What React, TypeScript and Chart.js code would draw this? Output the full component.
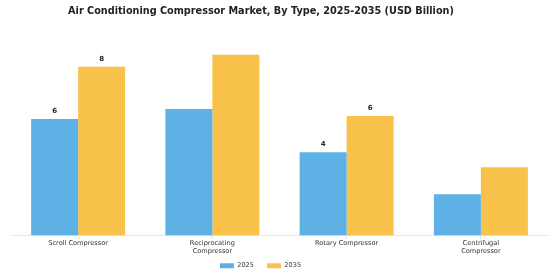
import React, { useEffect, useRef } from "react";
import { Chart, registerables } from "chart.js";

Chart.register(...registerables);

const categories: (string | string[])[] = [
  "Scroll Compressor",
  ["Reciprocating", "Compressor"],
  "Rotary Compressor",
  ["Centrifugal", "Compressor"],
];
const values2025 = [5.8, 6.3, 4.15, 2.05];
const values2035 = [8.4, 9.0, 5.95, 3.4];
const labels2025 = [true, false, true, false];
const labels2035 = [true, false, true, false];
const seriesNames = ["2025", "2035"];

const valueLabelPlugin = {
  id: "valueLabels",
  afterDatasetsDraw(chart: any) {
    const ctx = chart.ctx;
    const flags = [labels2025, labels2035];
    chart.data.datasets.forEach((ds: any, di: number) => {
      const meta = chart.getDatasetMeta(di);
      meta.data.forEach((bar: any, i: number) => {
        if (!flags[di][i]) return;
        ctx.save();
        ctx.font = "bold 7px 'DejaVu Sans'";
        ctx.fillStyle = "#222";
        ctx.textAlign = "center";
        ctx.textBaseline = "bottom";
        ctx.fillText(String(Math.round(ds.data[i])), bar.x, bar.y - 4);
        ctx.restore();
      });
    });
  },
};

// shift title and legend boxes slightly, as in the reference
const shiftPlugin = {
  id: "shiftBoxes",
  afterLayout(chart: any) {
    const t = chart.titleBlock;
    if (t) { t.left -= 18.5; t.right -= 18.5; }
    const l = chart.legend;
    if (l) { l.left -= 19; l.right -= 19; l.top -= 7; l.bottom -= 7; }
  },
};

export default function App() {
  const ref = useRef<HTMLCanvasElement>(null);
  useEffect(() => {
    document.body.style.margin = "0";
    const chart = new Chart(ref.current!, {
      type: "bar",
      data: {
        labels: categories,
        datasets: [
          { label: seriesNames[0], data: values2025, backgroundColor: "#5DB1E4" },
          { label: seriesNames[1], data: values2035, backgroundColor: "#F8C24B" },
        ],
      },
      options: {
        animation: false,
        responsive: false,
        layout: { padding: { left: 11, right: 12, top: 0, bottom: -6 } },
        datasets: { bar: { categoryPercentage: 0.7, barPercentage: 1 } },
        scales: {
          x: {
            grid: { display: true, offset: false, drawOnChartArea: false, tickLength: 3, color: "#ddd" },
            border: { color: "#e6e6e6" },
            ticks: { font: { family: "'DejaVu Sans'", size: 6.6 }, color: "#333", padding: 1, maxRotation: 0, autoSkip: false },
          },
          y: { display: false, min: 0, max: 10 },
        },
        plugins: {
          title: {
            display: true,
            text: "Air Conditioning Compressor Market, By Type, 2025-2035 (USD Billion)",
            font: { family: "'DejaVu Sans'", size: 9.7, weight: "bold" },
            color: "#222",
            padding: { top: 6, bottom: 17 },
          },
          legend: {
            position: "bottom",
            labels: { boxWidth: 14, boxHeight: 5, font: { family: "'DejaVu Sans'", size: 6.6 }, color: "#444", padding: 13 },
          },
          tooltip: { enabled: false },
        },
      },
      plugins: [valueLabelPlugin, shiftPlugin],
    } as any);
    return () => chart.destroy();
  }, []);
  return <canvas ref={ref} width={560} height={280} style={{ display: "block" }} />;
}
